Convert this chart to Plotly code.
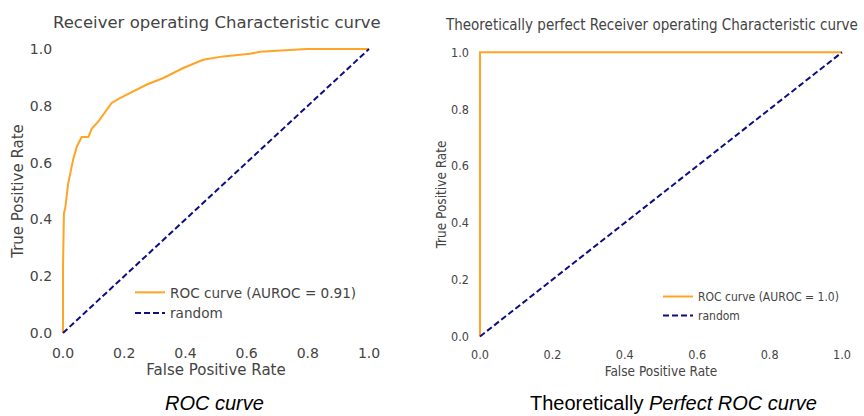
import plotly.graph_objects as go

# Left: empirical ROC curve
fpr = [0.0, 0.0, 0.003, 0.008, 0.017, 0.025, 0.033, 0.045, 0.061, 0.083, 0.094, 0.116,
       0.137, 0.159, 0.186, 0.219, 0.274, 0.328, 0.393, 0.458, 0.524, 0.611, 0.644,
       0.796, 1.0]
tpr = [0.0, 0.23, 0.42, 0.445, 0.527, 0.574, 0.61, 0.656, 0.69, 0.69, 0.72, 0.745,
       0.775, 0.81, 0.827, 0.845, 0.875, 0.898, 0.933, 0.962, 0.974, 0.983, 0.99,
       1.0, 1.0]
# Right: perfect ROC curve
fpr_perfect = [0.0, 0.0, 1.0]
tpr_perfect = [0.0, 1.0, 1.0]
# Random baseline
rand_x = [0.0, 1.0]
rand_y = [0.0, 1.0]

tick_vals = [0.0, 0.2, 0.4, 0.6, 0.8, 1.0]
tick_text = ["0.0", "0.2", "0.4", "0.6", "0.8", "1.0"]

ORANGE = "#FFA424"
NAVY = "#0d0d85"
W, H = 864, 416

fig = go.Figure()
fig.add_trace(go.Scatter(x=fpr, y=tpr, mode="lines", line=dict(color=ORANGE, width=2),
                         name="ROC curve (AUROC = 0.91)", xaxis="x", yaxis="y", legend="legend"))
fig.add_trace(go.Scatter(x=rand_x, y=rand_y, mode="lines", line=dict(color=NAVY, width=2, dash="6px,3px"),
                         name="random", xaxis="x", yaxis="y", legend="legend"))
fig.add_trace(go.Scatter(x=fpr_perfect, y=tpr_perfect, mode="lines", line=dict(color=ORANGE, width=2),
                         name="ROC curve (AUROC = 1.0)", xaxis="x2", yaxis="y2", legend="legend2"))
fig.add_trace(go.Scatter(x=rand_x, y=rand_y, mode="lines", line=dict(color=NAVY, width=2, dash="6px,3px"),
                         name="random", xaxis="x2", yaxis="y2", legend="legend2"))

LF = "DejaVu Sans, Verdana, sans-serif"
RF = "DejaVu Sans Condensed, Liberation Sans, Arial, sans-serif"
GRAY = "#444444"

def ax(domain, anchor, font, tsize, lsize, title, standoff):
    return dict(domain=domain, anchor=anchor, range=[-0.01, 1.01], showgrid=False,
                zeroline=False, showline=False, tickvals=tick_vals, ticktext=tick_text,
                ticks="outside", ticklen=4, tickcolor="rgba(0,0,0,0)", automargin=False,
                tickfont=dict(family=font, size=tsize, color=GRAY),
                title=dict(text=title, font=dict(family=font, size=lsize, color=GRAY), standoff=standoff),
                fixedrange=True)

fig.update_layout(
    width=W, height=H,
    margin=dict(l=0, r=0, t=0, b=0, autoexpand=False),
    paper_bgcolor="white", plot_bgcolor="white",
    xaxis=ax([59.94 / W, 372.06 / W], "y", LF, 14, 15, "False Positive Rate", 4),
    yaxis=ax([(H - 335.84) / H, (H - 46.16) / H], "x", LF, 14, 15, "True Positive Rate", 2),
    xaxis2=ax([476.4 / W, 845.6 / W], "y2", RF, 12.5, 13.5, "False Positive Rate", 5),
    yaxis2=ax([(H - 339.3) / H, (H - 49.5) / H], "x2", RF, 12.5, 13.5, "True Positive Rate", 1),
    legend=dict(x=130 / W, y=(H - 277) / H, xanchor="left", yanchor="top",
                bgcolor="rgba(0,0,0,0)", font=dict(family=LF, size=13.6, color=GRAY),
                itemwidth=30, tracegroupgap=0),
    legend2=dict(x=658 / W, y=(H - 282) / H, xanchor="left", yanchor="top",
                 bgcolor="rgba(0,0,0,0)", font=dict(family=RF, size=12, color=GRAY),
                 itemwidth=30, tracegroupgap=0),
    annotations=[
        dict(text="Receiver operating Characteristic curve", x=217 / W, y=(H - 22) / H,
             xref="paper", yref="paper", showarrow=False, xanchor="center", yanchor="middle",
             font=dict(family=LF, size=16.5, color=GRAY)),
        dict(text="Theoretically perfect Receiver operating Characteristic curve", x=860 / W, y=(H - 25) / H,
             xref="paper", yref="paper", showarrow=False, xanchor="right", yanchor="middle",
             font=dict(family=RF, size=15, color=GRAY)),
        dict(text="<i>ROC curve</i>", x=214 / W, y=(H - 403) / H,
             xref="paper", yref="paper", showarrow=False, xanchor="center", yanchor="middle",
             font=dict(family="Liberation Sans, Arial, sans-serif", size=20, color="black")),
        dict(text="Theoretically <i>Perfect ROC curve</i>", x=673 / W, y=(H - 403) / H,
             xref="paper", yref="paper", showarrow=False, xanchor="center", yanchor="middle",
             font=dict(family="Liberation Sans, Arial, sans-serif", size=20, color="black")),
    ],
)

fig.write_html("out.html", config={"displayModeBar": False})
